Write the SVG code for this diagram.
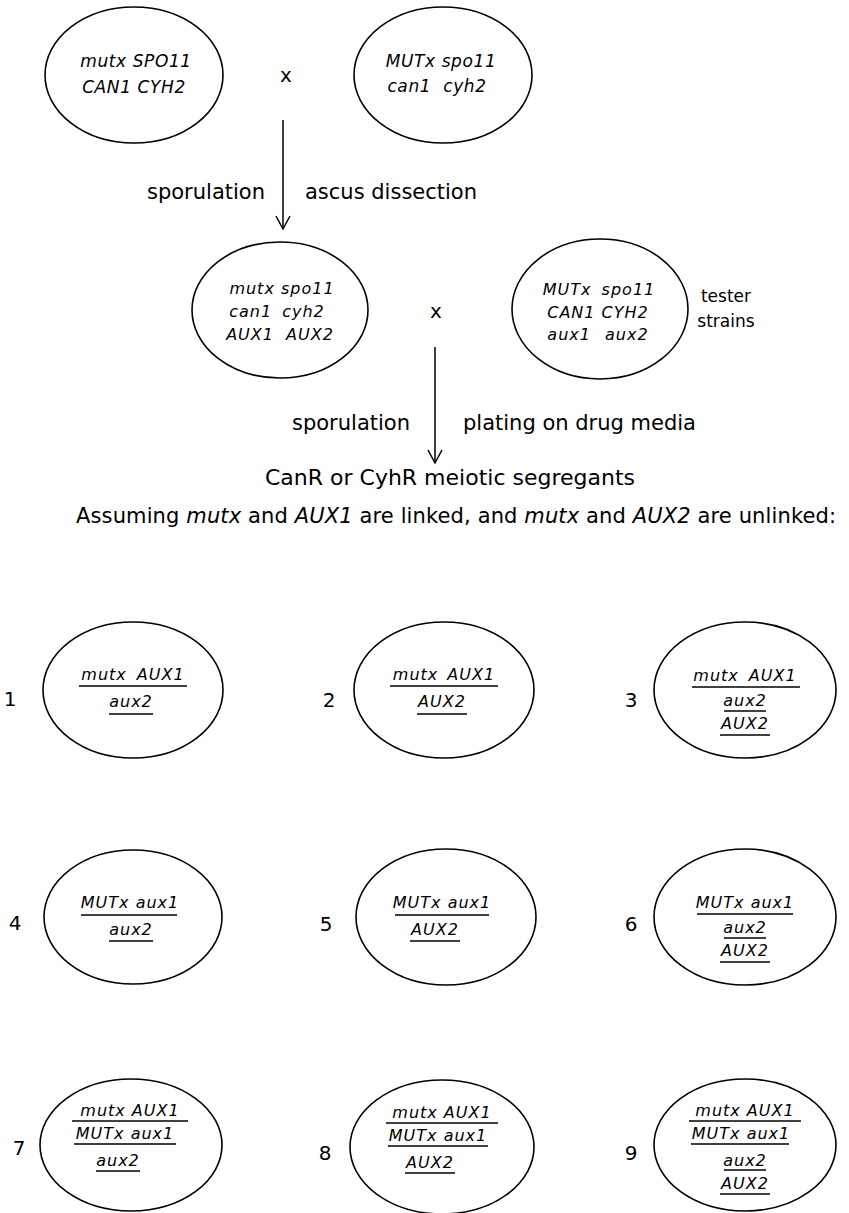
<svg xmlns="http://www.w3.org/2000/svg" width="849" height="1213" viewBox="0 0 849 1213">
<style>
.e{fill:none;stroke:#000;stroke-width:1.6}
.g{font-family:"DejaVu Sans","Liberation Sans",sans-serif;font-style:italic;font-size:17px;letter-spacing:0.6px;text-anchor:middle;fill:#000}
.s{font-size:16px;letter-spacing:1px}
.lab{font-family:"DejaVu Sans","Liberation Sans",sans-serif;font-size:21px;fill:#000}
.num{font-family:"DejaVu Sans","Liberation Sans",sans-serif;font-size:20px;text-anchor:middle;fill:#000}
.ul{stroke:#000;stroke-width:1.6}
.arr{fill:none;stroke:#000;stroke-width:1.5}
.i{font-style:italic}
</style>
<rect width="849" height="1213" fill="#fff"/>

<g id="parent1">
<ellipse class="e" cx="134" cy="75" rx="89" ry="68"/>
<text class="g" x="136" y="67">mutx SPO11</text>
<text class="g" x="134" y="93">CAN1 CYH2</text>
</g>
<g id="parent2">
<ellipse class="e" cx="443" cy="75" rx="89" ry="68"/>
<text class="g" x="441" y="67">MUTx spo11</text>
<text class="g" x="437" y="92" word-spacing="6">can1 cyh2</text>
</g>
<text class="lab" x="286" y="82" text-anchor="middle" style="font-size:20px">x</text>

<g id="segregant">
<ellipse class="e" cx="280" cy="310" rx="88" ry="68"/>
<text class="g s" x="282" y="294">mutx spo11</text>
<text class="g s" x="277" y="317" word-spacing="4">can1 cyh2</text>
<text class="g s" x="280" y="340" word-spacing="6">AUX1 AUX2</text>
</g>
<g id="tester">
<ellipse class="e" cx="600" cy="309" rx="88" ry="70"/>
<text class="g s" x="599" y="295" word-spacing="4">MUTx spo11</text>
<text class="g s" x="598" y="318">CAN1 CYH2</text>
<text class="g s" x="598" y="340" word-spacing="8">aux1 aux2</text>
</g>
<text class="lab" x="436" y="318" text-anchor="middle" style="font-size:20px">x</text>
<text class="lab" x="726" y="302" text-anchor="middle" style="font-size:17px">tester</text>
<text class="lab" x="726" y="327" text-anchor="middle" style="font-size:17px">strains</text>

<g id="connectors">
<line class="arr" x1="283" y1="120" x2="283" y2="228"/>
<polyline class="arr" points="276,216 283,229 290,216"/>
<line class="arr" x1="435" y1="347" x2="435" y2="463"/>
<polyline class="arr" points="428,450 435,463 442,450"/>
</g>

<text class="lab" x="265" y="199" text-anchor="end">sporulation</text>
<text class="lab" x="305" y="199">ascus dissection</text>
<text class="lab" x="410" y="430" text-anchor="end">sporulation</text>
<text class="lab" x="463" y="430">plating on drug media</text>
<text class="lab" x="450" y="485" text-anchor="middle" style="font-size:22px">CanR or CyhR meiotic segregants</text>
<text class="lab" x="76" y="523" textLength="760" lengthAdjust="spacing">Assuming <tspan class="i">mutx</tspan> and <tspan class="i">AUX1</tspan> are linked, and <tspan class="i">mutx</tspan> and <tspan class="i">AUX2</tspan> are unlinked:</text>

<!-- Row 1 -->
<g id="n1">
<text class="num" x="10" y="706">1</text>
<ellipse class="e" cx="133" cy="690" rx="90" ry="68"/>
<text class="g s" x="133" y="680" word-spacing="4">mutx AUX1</text>
<line class="ul" x1="79" y1="686" x2="187" y2="686"/>
<text class="g s" x="131" y="707">aux2</text>
<line class="ul" x1="109" y1="714" x2="153" y2="714"/>
</g>
<g id="n2">
<text class="num" x="329" y="707">2</text>
<ellipse class="e" cx="444" cy="690" rx="90" ry="68"/>
<text class="g s" x="444" y="680" word-spacing="3">mutx AUX1</text>
<line class="ul" x1="390" y1="686" x2="498" y2="686"/>
<text class="g s" x="442" y="707">AUX2</text>
<line class="ul" x1="417" y1="714" x2="467" y2="714"/>
</g>
<g id="n3">
<text class="num" x="631" y="707">3</text>
<ellipse class="e" cx="745" cy="690" rx="91" ry="68"/>
<text class="g s" x="745" y="681" word-spacing="4">mutx AUX1</text>
<line class="ul" x1="692" y1="687" x2="800" y2="687"/>
<text class="g s" x="745" y="706">aux2</text>
<line class="ul" x1="724" y1="711" x2="766" y2="711"/>
<text class="g s" x="745" y="729">AUX2</text>
<line class="ul" x1="720" y1="735" x2="770" y2="735"/>
</g>

<!-- Row 2 -->
<g id="n4">
<text class="num" x="15" y="930">4</text>
<ellipse class="e" cx="133" cy="917" rx="89" ry="67"/>
<text class="g s" x="130" y="908">MUTx aux1</text>
<line class="ul" x1="81" y1="915" x2="177" y2="915"/>
<text class="g s" x="131" y="935">aux2</text>
<line class="ul" x1="109" y1="941" x2="153" y2="941"/>
</g>
<g id="n5">
<text class="num" x="326" y="931">5</text>
<ellipse class="e" cx="446" cy="917" rx="90" ry="68"/>
<text class="g s" x="442" y="908">MUTx aux1</text>
<line class="ul" x1="395" y1="915" x2="489" y2="915"/>
<text class="g s" x="435" y="935">AUX2</text>
<line class="ul" x1="410" y1="941" x2="460" y2="941"/>
</g>
<g id="n6">
<text class="num" x="631" y="931">6</text>
<ellipse class="e" cx="745" cy="917" rx="91" ry="68"/>
<text class="g s" x="745" y="908">MUTx aux1</text>
<line class="ul" x1="697" y1="914" x2="793" y2="914"/>
<text class="g s" x="745" y="933">aux2</text>
<line class="ul" x1="724" y1="938" x2="766" y2="938"/>
<text class="g s" x="745" y="956">AUX2</text>
<line class="ul" x1="720" y1="962" x2="770" y2="962"/>
</g>

<!-- Row 3 -->
<g id="n7">
<text class="num" x="19" y="1155">7</text>
<ellipse class="e" cx="131" cy="1145" rx="91" ry="66"/>
<text class="g s" x="130" y="1116">mutx AUX1</text>
<line class="ul" x1="72" y1="1121" x2="188" y2="1121"/>
<text class="g s" x="125" y="1139">MUTx aux1</text>
<line class="ul" x1="74" y1="1144" x2="176" y2="1144"/>
<text class="g s" x="118" y="1166">aux2</text>
<line class="ul" x1="96" y1="1171" x2="140" y2="1171"/>
</g>
<g id="n8">
<text class="num" x="325" y="1160">8</text>
<ellipse class="e" cx="442" cy="1147" rx="92" ry="67"/>
<text class="g s" x="442" y="1118">mutx AUX1</text>
<line class="ul" x1="386" y1="1123" x2="498" y2="1123"/>
<text class="g s" x="438" y="1141">MUTx aux1</text>
<line class="ul" x1="388" y1="1146" x2="488" y2="1146"/>
<text class="g s" x="430" y="1168">AUX2</text>
<line class="ul" x1="405" y1="1173" x2="455" y2="1173"/>
</g>
<g id="n9">
<text class="num" x="631" y="1160">9</text>
<ellipse class="e" cx="745" cy="1145" rx="91" ry="66"/>
<text class="g s" x="745" y="1116">mutx AUX1</text>
<line class="ul" x1="689" y1="1121" x2="801" y2="1121"/>
<text class="g s" x="741" y="1139">MUTx aux1</text>
<line class="ul" x1="691" y1="1144" x2="789" y2="1144"/>
<text class="g s" x="745" y="1166">aux2</text>
<line class="ul" x1="724" y1="1170" x2="766" y2="1170"/>
<text class="g s" x="745" y="1189">AUX2</text>
<line class="ul" x1="720" y1="1194" x2="770" y2="1194"/>
</g>
</svg>
